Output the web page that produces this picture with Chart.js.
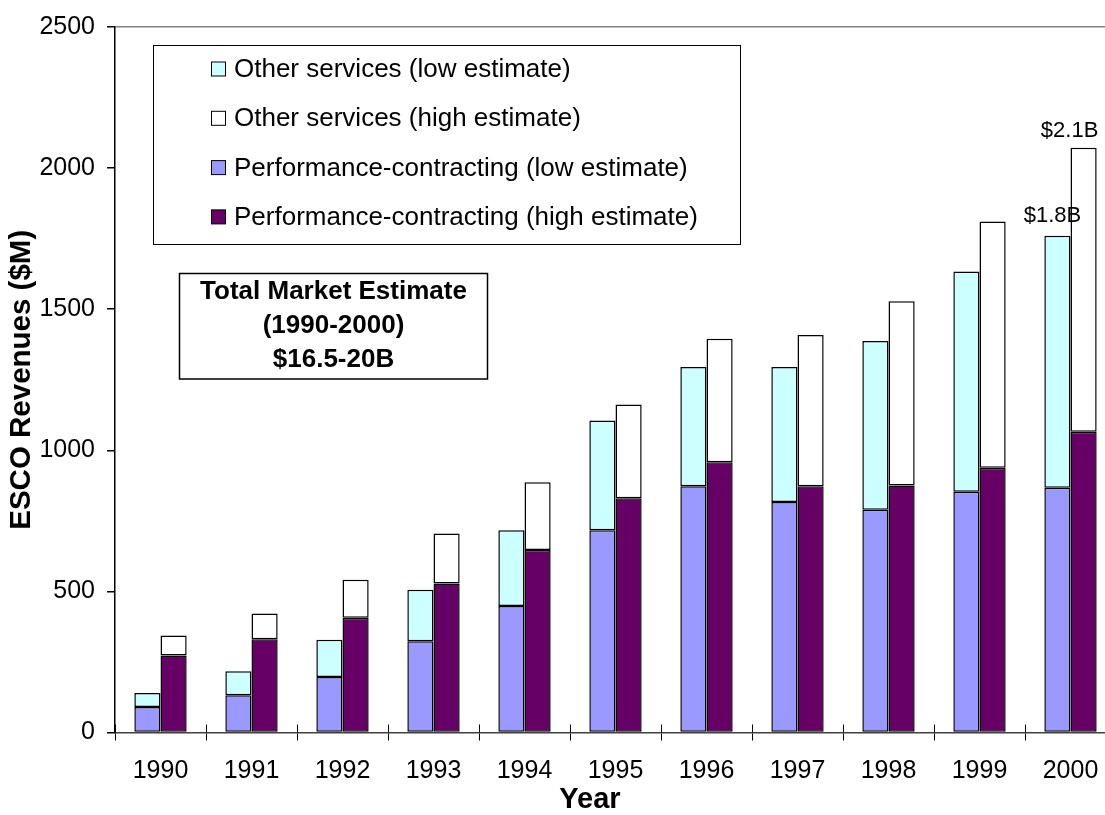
<!DOCTYPE html>
<html><head><meta charset="utf-8">
<script src="https://cdn.jsdelivr.net/npm/chart.js@4/dist/chart.umd.min.js"></script>
<style>html,body{margin:0;padding:0;overflow:hidden;background:#fff}#wrap{width:1118px;height:815px;position:relative}</style>
</head><body><div id="wrap"><canvas id="c"></canvas></div>
<script>
// ---- data ----
const years = ['1990','1991','1992','1993','1994','1995','1996','1997','1998','1999','2000'];
const perfLow   = [90, 132, 197, 323, 448, 717, 873, 817, 789, 853, 867];
const otherLow  = [50, 85, 132, 183, 269, 389, 422, 478, 598, 781, 893];
const perfHigh  = [273, 330, 407, 528, 647, 830, 958, 873, 875, 938, 1066];
const otherHigh = [71, 92, 134, 177, 240, 332, 437, 536, 653, 873, 1006];
const yTicks = [0, 500, 1000, 1500, 2000, 2500];
const seriesNames = {
  perfLow: 'Performance-contracting (low estimate)',
  otherLow: 'Other services (low estimate)',
  perfHigh: 'Performance-contracting (high estimate)',
  otherHigh: 'Other services (high estimate)'
};
const legendOrder = [1, 3, 0, 2];
const infoLines = ['Total Market Estimate', '(1990-2000)', '$16.5-20B'];
const endLabels = ['$1.8B', '$2.1B']; // low stack total, high stack total of last year
const xTitle = 'Year';
const yTitle = 'ESCO Revenues ($M)';

const FONT = "'Liberation Sans', Arial, sans-serif";

const legendBoxPlugin = {
  id: 'legendBox',
  afterDraw(chart) {
    const ctx = chart.ctx;
    ctx.save();
    // legend box
    ctx.strokeStyle = '#000'; ctx.lineWidth = 1;
    ctx.strokeRect(153.5, 45.5, 587, 199);
    ctx.font = '26px ' + FONT;
    ctx.textBaseline = 'middle'; ctx.textAlign = 'left';
    legendOrder.forEach((di, i) => {
      const ds = chart.data.datasets[di];
      const y = 69 + i * 49.3;
      ctx.fillStyle = ds.backgroundColor;
      ctx.fillRect(211.5, y - 7, 14, 14);
      ctx.strokeStyle = '#000'; ctx.lineWidth = 1;
      ctx.strokeRect(211.5, y - 7, 14, 14);
      ctx.fillStyle = '#000';
      ctx.fillText(ds.label, 234, y + 1);
    });
    // info box
    ctx.lineWidth = 1.5;
    ctx.strokeRect(179.5, 273.5, 308, 105.5);
    ctx.font = 'bold 26px ' + FONT;
    ctx.textAlign = 'center';
    infoLines.forEach((t, i) => ctx.fillText(t, 333.5, 292 + i * 34));
    // end labels above the last year's bars
    ctx.font = '22px ' + FONT;
    ctx.textBaseline = 'alphabetic';
    const last = years.length - 1;
    const lowTop = chart.getDatasetMeta(1).data[last];
    const highTop = chart.getDatasetMeta(3).data[last];
    ctx.fillText(endLabels[0], lowTop.x - 5, lowTop.y - 14);
    ctx.fillText(endLabels[1], highTop.x - 14, highTop.y - 11);
    // x axis title
    ctx.font = 'bold 29px ' + FONT;
    ctx.textBaseline = 'middle';
    ctx.fillText(xTitle, 590, 800);
    // x ticks crossing the axis (inner half)
    const xs = chart.scales.x, area = chart.chartArea;
    const step = (xs.right - xs.left) / years.length;
    ctx.strokeStyle = '#000'; ctx.lineWidth = 1;
    ctx.beginPath();
    for (let i = 0; i <= years.length; i++) {
      const x = Math.round(xs.left + i * step) + 0.5;
      ctx.moveTo(x, area.bottom - 8); ctx.lineTo(x, area.bottom);
    }
    ctx.stroke();
    ctx.restore();
  }
};

const common = { borderColor: '#000', borderWidth: 1.5, borderSkipped: false, categoryPercentage: 0.575, barPercentage: 1 };

new Chart(document.getElementById('c'), {
  type: 'bar',
  data: {
    labels: years,
    datasets: [
      Object.assign({ label: seriesNames.perfLow, data: perfLow, backgroundColor: '#9999FF', stack: 'low' }, common),
      Object.assign({ label: seriesNames.otherLow, data: otherLow, backgroundColor: '#CCFFFF', stack: 'low' }, common),
      Object.assign({ label: seriesNames.perfHigh, data: perfHigh, backgroundColor: '#660066', stack: 'high' }, common),
      Object.assign({ label: seriesNames.otherHigh, data: otherHigh, backgroundColor: '#FFFFFF', stack: 'high' }, common)
    ]
  },
  options: {
    responsive: true, maintainAspectRatio: false, animation: false,
    layout: { padding: { top: 23.5, right: 2, left: 0, bottom: 0 } },
    plugins: { legend: { display: false }, tooltip: { enabled: false } },
    scales: {
      x: {
        stacked: true,
        afterFit(s) { s.height = 82.5; },
        grid: { display: true, drawOnChartArea: false, offset: true, tickLength: 8, tickColor: '#000', color: '#000' },
        border: { color: '#404040', width: 1.5 },
        ticks: { color: '#000', padding: 16, font: { family: FONT, size: 25 } },
        title: { display: false }
      },
      y: {
        stacked: true, min: 0, max: 2500,
        afterFit(s) { s.width = 115; },
        afterBuildTicks(s) { s.ticks = yTicks.map(v => ({ value: v })); },
        grid: { drawOnChartArea: true, tickLength: 8, tickColor: '#000', lineWidth: 1.5,
                color: c => (c.tick && c.tick.value === 2500) ? '#808080' : 'rgba(0,0,0,0)' },
        border: { color: '#000', width: 1.5 },
        ticks: { color: '#000', padding: 12, font: { family: FONT, size: 25 }, callback: v => String(v) },
        title: { display: true, text: yTitle, color: '#000', font: { family: FONT, size: 29.5, weight: 'bold', lineHeight: 1 }, padding: { top: 7, bottom: 0 } }
      }
    }
  },
  plugins: [legendBoxPlugin]
});
</script></body></html>
